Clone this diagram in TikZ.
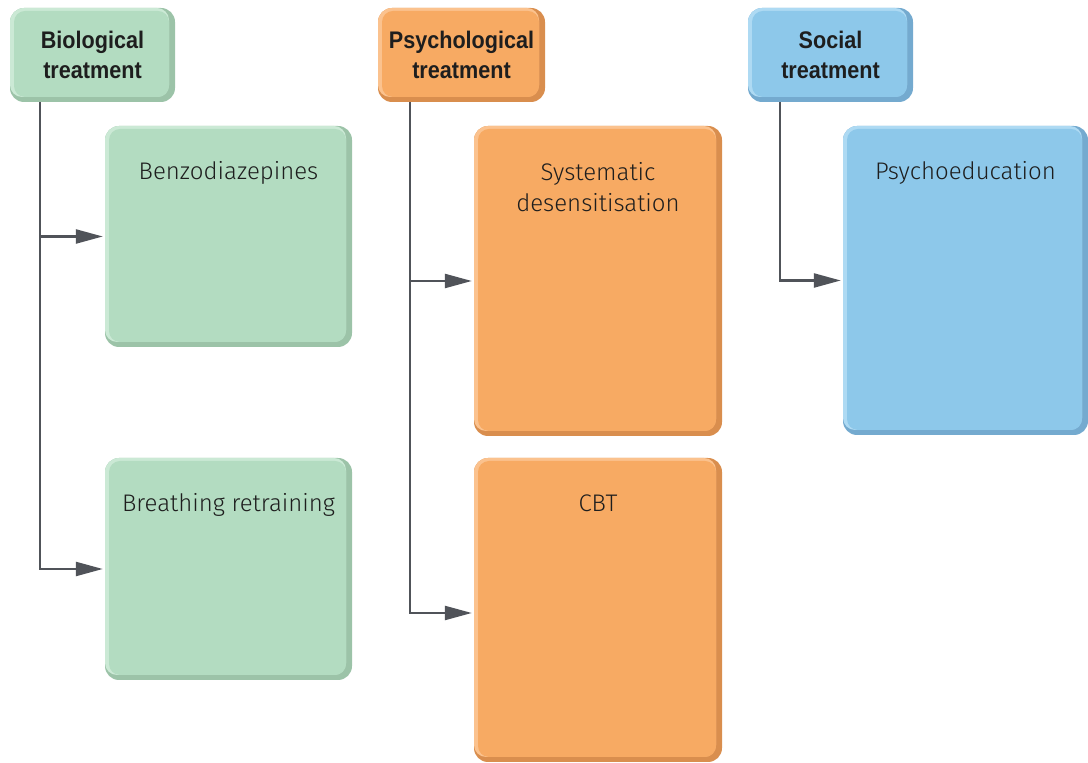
\documentclass[tikz,border=0pt]{standalone}
\usepackage{fontspec}
\setmainfont{Liberation Sans}
\newfontfamily\bodyfont{Fira Sans Light}
\newfontfamily\headfont[FakeStretch=0.9]{Liberation Sans}
\usetikzlibrary{arrows.meta,calc}

\definecolor{grnMain}{HTML}{B3DCC1}
\definecolor{grnDark}{HTML}{9CC3A8}
\definecolor{grnLight}{HTML}{CBE9D5}
\definecolor{orgMain}{HTML}{F7AA63}
\definecolor{orgDark}{HTML}{D98E4E}
\definecolor{orgLight}{HTML}{FBC28E}
\definecolor{bluMain}{HTML}{8DC8EA}
\definecolor{bluDark}{HTML}{74AACF}
\definecolor{bluLight}{HTML}{AEDAF3}
\definecolor{linegray}{HTML}{505359}
\definecolor{inktext}{HTML}{1E1E1E}

\tikzset{
  bevel/.style n args={3}{
    rectangle, rounded corners=14pt, fill=#2, inner sep=0pt, text=inktext,
    path picture={
      \fill[#3, rounded corners=12pt]
        ([yshift=5pt]path picture bounding box.south west) rectangle
        ([xshift=-6pt]path picture bounding box.north east);
      \fill[#1, rounded corners=11pt]
        ([xshift=4pt,yshift=5pt]path picture bounding box.south west) rectangle
        ([xshift=-6pt,yshift=-3pt]path picture bounding box.north east);
    }},
  greenbox/.style={bevel={grnMain}{grnDark}{grnLight}},
  orangebox/.style={bevel={orgMain}{orgDark}{orgLight}},
  bluebox/.style={bevel={bluMain}{bluDark}{bluLight}},
  header/.style={align=center, font=\headfont\bfseries\fontsize{24}{30}\selectfont},
  bodytext/.style={inner sep=0pt, text=inktext, align=center,
    font=\bodyfont\fontsize{24}{31}\selectfont},
  conn/.style={draw=linegray, line width=2.4pt, shorten >=2pt,
    -{Triangle[length=27pt,width=14pt]}},
}

\begin{document}
\begin{tikzpicture}[x=1pt,y=1pt]
\useasboundingbox (0,0) rectangle (1088,763);

% header boxes
\node[greenbox, header, minimum width=165pt, minimum height=94pt] (bio) at (92.5,708) {Biological\\treatment};
\node[orangebox, header, minimum width=167pt, minimum height=94pt] (psych) at (461.5,708) {Psychological\\treatment};
\node[bluebox, header, minimum width=165pt, minimum height=94pt] (social) at (830.5,708) {Social\\treatment};

% treatment boxes
\node[greenbox, minimum width=247pt, minimum height=221pt] (benzo) at (228.5,526.5) {};
\node[greenbox, minimum width=247pt, minimum height=222pt] (breath) at (228.5,194) {};
\node[orangebox, minimum width=248pt, minimum height=310pt] (sysdes) at (598,482) {};
\node[orangebox, minimum width=248pt, minimum height=304pt] (cbt) at (598,153) {};
\node[bluebox, minimum width=245pt, minimum height=309pt] (psyedu) at (965.5,482.5) {};

% box labels
\node[bodytext, anchor=base] (benzo-t) at ([yshift=-54pt]benzo.north) {Benzodiazepines};
\node[bodytext, anchor=base] (breath-t) at ([yshift=-54pt]breath.north) {Breathing retraining};
\node[bodytext, anchor=north] (sysdes-t) at ([yshift=-36pt]sysdes.north) {Systematic\\desensitisation};
\node[bodytext, anchor=base] (cbt-t) at ([yshift=-54pt]cbt.north) {CBT};
\node[bodytext, anchor=base] (psyedu-t) at ([yshift=-54pt]psyedu.north) {Psychoeducation};

% connectors
\draw[conn] ([xshift=30pt]bio.south west) |- (benzo.west);
\draw[conn] ([xshift=30pt]bio.south west) |- (breath.west);
\draw[conn] ([xshift=32pt]psych.south west) |- (sysdes.west);
\draw[conn] ([xshift=32pt]psych.south west) |- ([yshift=-3pt]cbt.west);
\draw[conn] ([xshift=32pt]social.south west) |- (psyedu.west);
\end{tikzpicture}
\end{document}
